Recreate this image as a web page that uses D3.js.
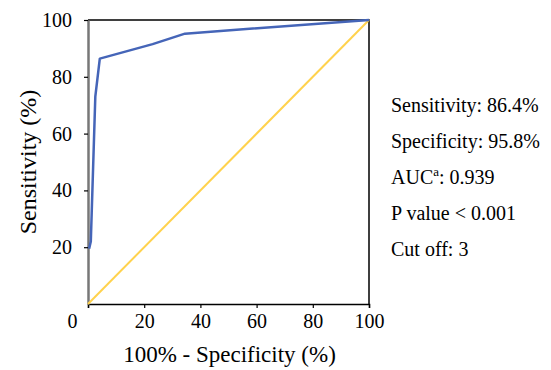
<!DOCTYPE html>
<html>
<head>
<meta charset="utf-8">
<script src="https://cdn.jsdelivr.net/npm/d3@7"></script>
<style>
  body { margin: 0; background: #fff; }
  text { font-family: "Liberation Serif", "Times New Roman", serif; fill: #000; }
</style>
</head>
<body>
<svg id="chart" width="551" height="370"></svg>
<script>
// ROC curve points: 100% - specificity (x), sensitivity (y)
const rocFpr = [0.4, 1, 2.6, 4.2, 23, 34.5, 100];
const rocTpr = [19.5, 22, 73, 86.4, 91.5, 95.2, 100];
const refLine = [0, 100];
const xTicks = [0, 20, 40, 60, 80, 100];
const yTicks = [20, 40, 60, 80, 100];
const stats = ["Sensitivity: 86.4%", "Specificity: 95.8%", "AUC", "P value < 0.001", "Cut off: 3"];

const svg = d3.select("#chart");
const mLeft = 88, mRight = 369, mTop = 20, mBottom = 304;

const x = d3.scaleLinear().domain([0, 100]).range([mLeft, mRight]);
const y = d3.scaleLinear().domain([0, 100]).range([mBottom, mTop]);

// frame (top & right)
svg.append("path")
  .attr("d", `M${x(0)},${y(100)}H${x(100)}V${y(0)}`)
  .attr("fill", "none").attr("stroke", "#000").attr("stroke-width", 1.5);

// x axis
const xAxis = svg.append("g").attr("transform", `translate(0,${mBottom})`)
  .call(d3.axisBottom(x).tickValues(xTicks).tickSize(4).tickPadding(6));
xAxis.select(".domain").attr("stroke", "#000").attr("stroke-width", 1.5);
xAxis.selectAll("line").attr("stroke", "#000").attr("stroke-width", 1.2);
xAxis.selectAll("text").attr("font-size", 20).style("font-family", "Liberation Serif")
  .attr("dx", d => d === 0 ? -16 : 0);

// y axis
const yAxis = svg.append("g").attr("transform", `translate(${mLeft},0)`)
  .call(d3.axisLeft(y).tickValues(yTicks).tickSize(4).tickPadding(12).tickSizeOuter(0));
yAxis.select(".domain").attr("stroke", "#777").attr("stroke-width", 2.5);
yAxis.selectAll("line").attr("stroke", "#000").attr("stroke-width", 1.2);
yAxis.selectAll("text").attr("font-size", 20).style("font-family", "Liberation Serif");

// reference diagonal
svg.append("line")
  .attr("x1", x(refLine[0])).attr("y1", y(refLine[0]))
  .attr("x2", x(refLine[1])).attr("y2", y(refLine[1]))
  .attr("stroke", "#ffd24d").attr("stroke-width", 2);

// ROC curve
const line = d3.line().x(d => x(d[0])).y(d => y(d[1]));
svg.append("path")
  .datum(rocFpr.map((f, i) => [f, rocTpr[i]]))
  .attr("d", line)
  .attr("fill", "none").attr("stroke", "#4565b8").attr("stroke-width", 2.5)
  .attr("stroke-linejoin", "round");

// axis titles
svg.append("text").attr("x", (mLeft + mRight) / 2 + 1).attr("y", 362)
  .attr("text-anchor", "middle").attr("font-size", 23).text("100% - Specificity (%)");
svg.append("text").attr("transform", `translate(36,${(mTop + mBottom) / 2}) rotate(-90)`)
  .attr("text-anchor", "middle").attr("font-size", 24).text("Sensitivity (%)");

// stats block
const st = svg.append("g").attr("font-size", 20);
stats.forEach((s, i) => {
  const t = st.append("text").attr("x", 391).attr("y", 112 + i * 36);
  if (s === "AUC") {
    t.append("tspan").text("AUC");
    t.append("tspan").attr("font-size", 13).attr("dy", -8).text("a");
    t.append("tspan").attr("dy", 8).text(": 0.939");
  } else {
    t.text(s);
  }
});
</script>
</body>
</html>
